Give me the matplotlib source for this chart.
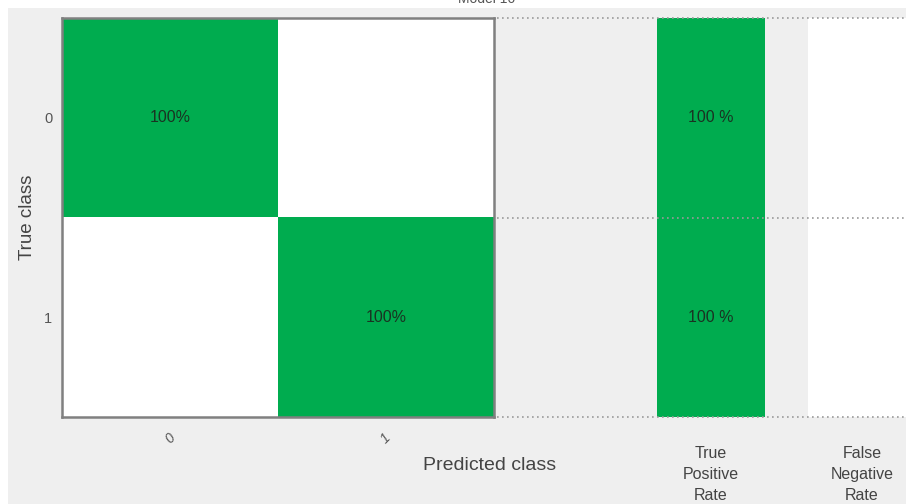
import matplotlib
matplotlib.use("Agg")
import matplotlib.pyplot as plt
from matplotlib.colors import LinearSegmentedColormap
from matplotlib.patches import Rectangle
import numpy as np

# Data
classes = ["0", "1"]
confusion_pct = [[100, 0], [0, 100]]
tpr = [100, 100]
fnr = [0, 0]
side_labels = ["True\nPositive\nRate", "False\nNegative\nRate"]
title = "Model 16"

W, H = 906, 504
fig = plt.figure(figsize=(W / 100, H / 100), dpi=100)
fig.patch.set_facecolor("#efefef")
# white strips at top and left
fig.add_artist(Rectangle((0, 1 - 8 / H), 1, 8 / H, transform=fig.transFigure,
                         facecolor="white", edgecolor="none", zorder=0))
fig.add_artist(Rectangle((0, 0), 8 / W, 1, transform=fig.transFigure,
                         facecolor="white", edgecolor="none", zorder=0))

green = "#00ac4f"
txtc = "#1a3322"
cmap = LinearSegmentedColormap.from_list("wg", ["white", green])
fam = "Liberation Sans"

def fx(px):
    return px / W

def fy(py):
    return 1 - py / H

top, bot = 18, 417
ax1 = fig.add_axes([fx(62), fy(bot), fx(494) - fx(62), fy(top) - fy(bot)])
cm = np.array(confusion_pct, dtype=float)
ax1.imshow(cm, cmap=cmap, vmin=0, vmax=100, aspect="auto")
for i in range(len(classes)):
    for j in range(len(classes)):
        if cm[i, j] > 0:
            ax1.text(j, i, f"{int(cm[i, j])}%", ha="center", va="center",
                     fontsize=11.5, color=txtc, fontfamily=fam)
ax1.set_xticks(range(len(classes)))
ax1.set_xticklabels(classes, rotation=45, fontsize=10, color="#555555", fontfamily=fam)
ax1.set_yticks(range(len(classes)))
ax1.set_yticklabels(classes, fontsize=10.5, color="#555555", fontfamily=fam)
ax1.tick_params(axis="y", length=0, pad=7)
ax1.tick_params(axis="x", length=0, pad=10)
for lbl in ax1.get_xticklabels():
    lbl.set_fontstyle("italic")
ax1.set_ylabel("True class", fontsize=13.5, color="#444444", labelpad=6,
               fontfamily=fam)
for s in ax1.spines.values():
    s.set_color("#808080")
    s.set_linewidth(1.8)

fig.text(fx(490), fy(465), "Predicted class", ha="center", va="center",
         fontsize=14, color="#444444", fontfamily=fam)

# side panel
ax2 = fig.add_axes([fx(497), fy(bot), fx(906) - fx(497), fy(top) - fy(bot)])
ax2.set_facecolor("none")
spacing = 151.0
ax2.set_xlim((497 - 711) / spacing, (906 - 711) / spacing)
ax2.set_ylim(1.5, -0.5)
bw = 108 / spacing
for col, vals in enumerate([tpr, fnr]):
    for i, v in enumerate(vals):
        ax2.bar(col, 1.0, bottom=i - 0.5, width=bw, color=cmap(v / 100),
                edgecolor="none", zorder=1)
        if v > 0:
            ax2.text(col, i, f"{v} %", ha="center", va="center", fontsize=11.5,
                     color=txtc, fontfamily=fam, zorder=3)
for yb in [-0.5, 0.5, 1.5]:
    ax2.axhline(yb, color="#9a9a9a", linestyle=(0, (1, 2)), linewidth=1.2,
                zorder=2, clip_on=False)
ax2.set_xticks([0, 1])
ax2.set_xticklabels(side_labels, fontsize=11.5, color="#444444",
                    fontfamily=fam, linespacing=1.5)
ax2.tick_params(axis="x", length=0, pad=21)
ax2.set_yticks([])
for s in ax2.spines.values():
    s.set_visible(False)

fig.text(fx(487), fy(-1), title, ha="center", va="center", fontsize=10,
         color="#555555", fontfamily=fam)

fig.savefig("out.png", dpi=100, facecolor=fig.get_facecolor())
